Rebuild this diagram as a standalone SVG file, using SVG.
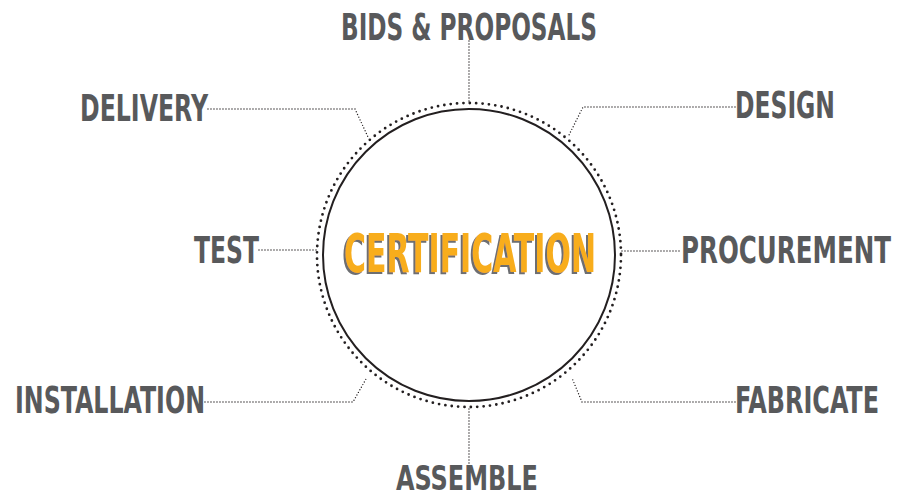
<svg xmlns="http://www.w3.org/2000/svg" width="898" height="498" viewBox="0 0 898 498">
<defs>
<filter id="shadow" x="-5%" y="-20%" width="110%" height="140%">
<feFlood flood-color="#6d6e71" result="c"/>
<feComposite in="c" in2="SourceAlpha" operator="in" result="s"/>
<feOffset in="s" dx="-2.2" dy="1.4" result="o"/>
<feMerge><feMergeNode in="o"/><feMergeNode in="SourceGraphic"/></feMerge>
</filter>
</defs>
<style>
.lbl{font-family:"DejaVu Sans Condensed","DejaVu Sans","Liberation Sans",sans-serif;font-weight:bold;font-size:26px;fill:#58595b}
.con{fill:none;stroke:#231f20;stroke-width:1.4;stroke-dasharray:0 3;stroke-linecap:round}
.title{font-family:"DejaVu Sans Condensed","DejaVu Sans","Liberation Sans",sans-serif;font-weight:bold;font-size:33px;fill:#f8ad1d}
</style>
<rect width="898" height="498" fill="#ffffff"/>
<g id="connectors">
<path class="con" d="M469 41 V102"/>
<path class="con" d="M208 109 H355 L368 137"/>
<path class="con" d="M735 107 H583 L569 135"/>
<path class="con" d="M259 250 H317"/>
<path class="con" d="M622 251 H681"/>
<path class="con" d="M205 402 H353 L366 379"/>
<path class="con" d="M735 402 H582 L572 378"/>
<path class="con" d="M469 409 V464"/>
</g>
<g id="center">
<circle cx="469" cy="255" r="152" fill="none" stroke="#231f20" stroke-width="2.8" stroke-dasharray="0 6.4" stroke-linecap="round"/>
<circle cx="469" cy="255" r="146" fill="none" stroke="#231f20" stroke-width="2"/>
<g transform="translate(344 272) scale(1 1.62)">
<text class="title" x="0" y="0" textLength="252" lengthAdjust="spacingAndGlyphs" filter="url(#shadow)">CERTIFICATION</text>
</g>
</g>
<g id="n-bids" transform="translate(341 40) scale(1 1.42)"><text class="lbl" x="0" y="0" textLength="256" lengthAdjust="spacingAndGlyphs">BIDS &amp; PROPOSALS</text></g>
<g id="n-delivery" transform="translate(80 121) scale(1 1.42)"><text class="lbl" x="0" y="0" textLength="128" lengthAdjust="spacingAndGlyphs">DELIVERY</text></g>
<g id="n-design" transform="translate(735 118) scale(1 1.42)"><text class="lbl" x="0" y="0" textLength="100" lengthAdjust="spacingAndGlyphs">DESIGN</text></g>
<g id="n-test" transform="translate(194 263) scale(1 1.42)"><text class="lbl" x="0" y="0" textLength="65" lengthAdjust="spacingAndGlyphs">TEST</text></g>
<g id="n-procurement" transform="translate(681 263) scale(1 1.42)"><text class="lbl" x="0" y="0" textLength="210" lengthAdjust="spacingAndGlyphs">PROCUREMENT</text></g>
<g id="n-installation" transform="translate(15 413) scale(1 1.42)"><text class="lbl" x="0" y="0" textLength="190" lengthAdjust="spacingAndGlyphs">INSTALLATION</text></g>
<g id="n-fabricate" transform="translate(735 413) scale(1 1.42)"><text class="lbl" x="0" y="0" textLength="144" lengthAdjust="spacingAndGlyphs">FABRICATE</text></g>
<g id="n-assemble" transform="translate(396 490) scale(1 1.3)"><text class="lbl" x="0" y="0" textLength="142" lengthAdjust="spacingAndGlyphs">ASSEMBLE</text></g>
</svg>
